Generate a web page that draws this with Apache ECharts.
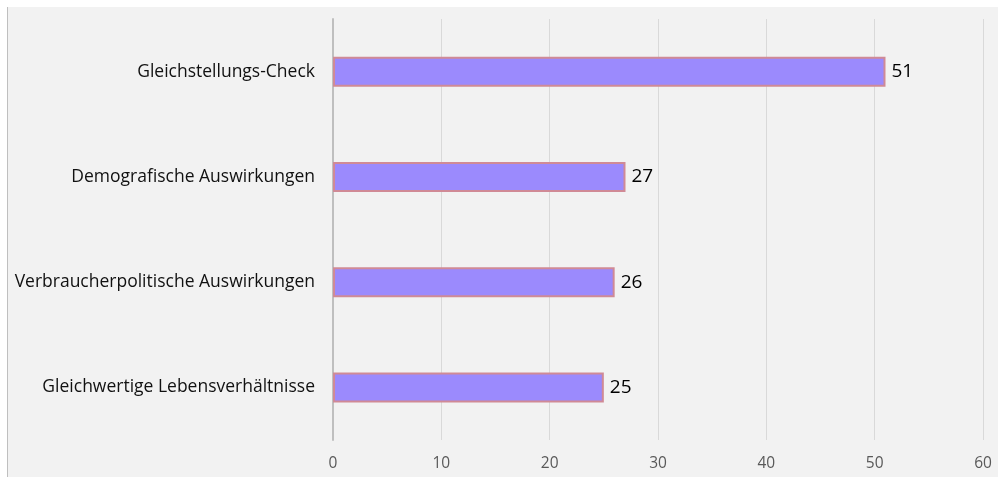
<!DOCTYPE html>
<html>
<head>
<meta charset="utf-8">
<script src="https://cdn.jsdelivr.net/npm/echarts@6/dist/echarts.min.js"></script>
<style>
    html, body { margin: 0; padding: 0; background: #fff; }
    #chart {
        position: absolute;
        left: 7px;
        top: 7px;
        width: 991px;
        height: 470px;
        background: #f2f2f2;
        border-left: 1px solid #bfbfbf;
    }
</style>
</head>
<body>
<div id="chart"></div>
<script>
// categories top to bottom
const categories = [
    'Gleichstellungs-Check',
    'Demografische Auswirkungen',
    'Verbraucherpolitische Auswirkungen',
    'Gleichwertige Lebensverhältnisse'
];
const counts = [51, 27, 26, 25];
const xTicks = [0, 10, 20, 30, 40, 50, 60];

const chart = echarts.init(document.getElementById('chart'));
chart.setOption({
    animation: false,
    grid: { left: 325, right: 16, top: 12, bottom: 37, containLabel: false },
    xAxis: {
        type: 'value',
        min: xTicks[0],
        max: xTicks[xTicks.length - 1],
        interval: 10,
        axisLine: { show: false },
        axisTick: { show: false },
        splitLine: { show: true, lineStyle: { color: '#d9d9d9', width: 1 } },
        axisLabel: {
            color: '#595959',
            fontFamily: 'Open Sans',
            fontSize: 15.5,
            margin: 16
        }
    },
    yAxis: {
        type: 'category',
        inverse: true,
        data: categories,
        axisLine: { show: true, lineStyle: { color: '#bfbfbf', width: 2 } },
        axisTick: { show: false },
        axisLabel: {
            color: '#111',
            fontFamily: 'Open Sans',
            fontSize: 17.5,
            margin: 18,
            padding: [3, 0, 0, 0]
        }
    },
    series: [{
        type: 'bar',
        data: counts,
        barWidth: 30,
        itemStyle: {
            color: '#9b8afd',
            borderColor: '#d08a96',
            borderWidth: 2
        },
        label: {
            show: true,
            position: 'right',
            distance: 6,
            color: '#000',
            fontFamily: 'Open Sans',
            fontSize: 19,
            padding: [4, 0, 0, 0]
        }
    }]
});
</script>
</body>
</html>
